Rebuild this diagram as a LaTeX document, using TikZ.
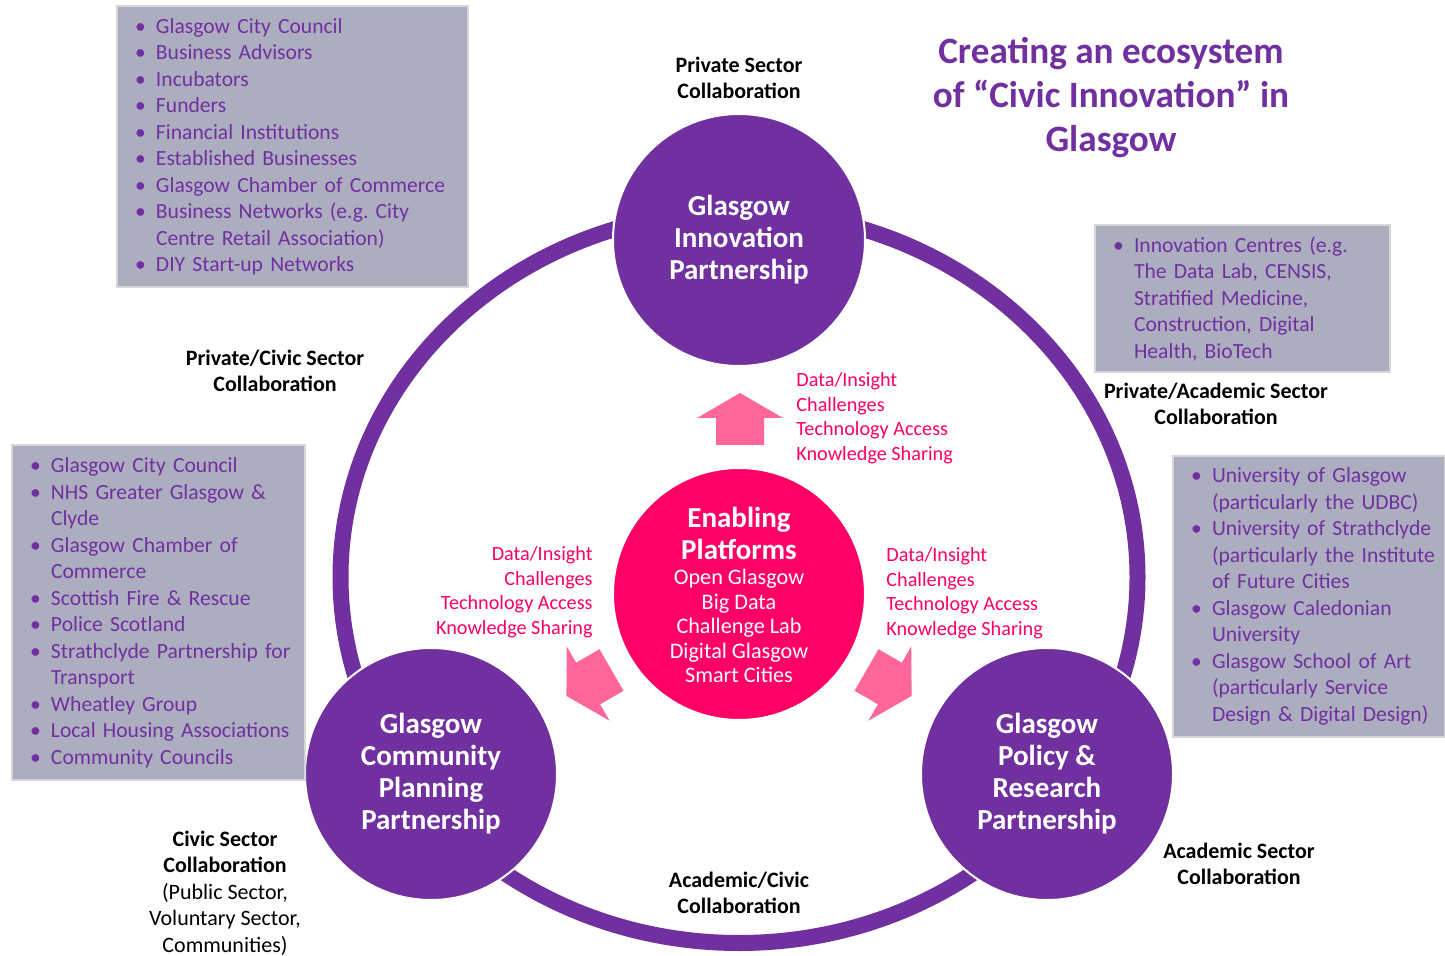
\documentclass[tikz,border=0pt]{standalone}
\usepackage{fontspec}
\setmainfont{Carlito}
\usepackage{tikz}
\frenchspacing

\definecolor{ecopurple}{HTML}{7030A0}
\definecolor{ecopink}{HTML}{FF0066}
\definecolor{arrowpink}{HTML}{FF6699}
\definecolor{boxgrey}{HTML}{ADADC0}
\definecolor{boxedge}{HTML}{D6D6D6}

\newcommand{\bitem}{\hspace*{9pt}\makebox[10.5pt][l]{\textbullet}}
\newcommand{\bcont}{\hspace*{19.5pt}}

\tikzset{
  listbox/.style={draw=boxedge, line width=1pt, fill=boxgrey, text=ecopurple,
    font=\fontsize{10.8}{13.25}\selectfont, inner xsep=0pt, align=left},
  hub/.style={circle, fill=ecopurple, draw=white, line width=1pt, minimum size=126pt,
    inner sep=0pt, text=white, font=\fontsize{14.5}{16}\selectfont\bfseries, align=center},
  flow/.style={text=ecopink, font=\fontsize{10.1}{12.25}\selectfont, inner sep=0pt},
  sector/.style={font=\fontsize{11}{13.25}\selectfont\bfseries, align=center},
  fatarrow/.pic={\fill[arrowpink] (-24,0) -- (-24,-27) -- (-43,-27) -- (0,-52)
    -- (43,-27) -- (24,-27) -- (24,0) -- cycle;}
}

\begin{document}
\begin{tikzpicture}[x=0.5pt, y=-0.5pt]
    \useasboundingbox (0,0) rectangle (1445,956);
    \fill[white] (0,0) rectangle (1445,956);

    % Ring
    \draw[ecopurple, line width=8pt] (739,577) ellipse [x radius=199.25pt, y radius=183pt];

    % Partnerships
    \node[hub] (gip) at (739,240) {Glasgow\\Innovation\\Partnership};
    \node[hub] (gcpp) at (431,774) {Glasgow\\Community\\Planning\\Partnership};
    \node[hub] (gprp) at (1047,774) {Glasgow\\Policy \&\\Research\\Partnership};

    % Enabling platforms
    \node[hub, fill=ecopink] (ep) at (739,594) {};
    \node[text=white, font=\fontsize{14.5}{16}\selectfont\bfseries, align=center] (eptitle) at (739,533) {Enabling\\Platforms};
    \node[text=white, font=\fontsize{11.1}{12.25}\selectfont, align=center] (eplist) at (739,626)
        {Open Glasgow\\Big Data\\Challenge Lab\\Digital Glasgow\\Smart Cities};

    % Flows
    \pic at (740,445) {fatarrow};
    \pic[rotate=120] at (611.5,670) {fatarrow};
    \pic[rotate=-120] at (866.5,670) {fatarrow};
    \node[flow, anchor=west, align=left] (flowtop) at (796,418)
        {Data/Insight\\Challenges\\Technology Access\\Knowledge Sharing};
    \node[flow, anchor=east, align=right] (flowleft) at (593,592)
        {Data/Insight\\Challenges\\Technology Access\\Knowledge Sharing};
    \node[flow, anchor=west, align=left] (flowright) at (886,593)
        {Data/Insight\\Challenges\\Technology Access\\Knowledge Sharing};

    % Sector labels
    \node[sector] (privlab) at (739,78) {Private Sector\\Collaboration};
    \node[sector] (privciv) at (275,371) {Private/Civic Sector\\Collaboration};
    \node[sector] (privacad) at (1216,404) {Private/Academic Sector\\Collaboration};
    \node[sector] (civlab) at (225,893) {Civic Sector\\Collaboration\\\textmd{(Public Sector,}\\\textmd{Voluntary Sector,}\\\textmd{Communities)}};
    \node[sector] (acadlab) at (1239,864) {Academic Sector\\Collaboration};
    \node[sector] (acadciv) at (739,893) {Academic/Civic\\Collaboration};

    % Title
    \node[text=ecopurple, font=\fontsize{18.6}{22}\selectfont\bfseries, align=center] (title) at (1111,98)
        {Creating an ecosystem\\of “Civic Innovation” in\\Glasgow};

    % Member boxes
    \node[listbox, text width=175.5pt, minimum height=140.5pt] (privbox) at (292.5,146.5)
        {\bitem Glasgow City Council\\\bitem Business Advisors\\\bitem Incubators\\\bitem Funders\\
         \bitem Financial Institutions\\\bitem Established Businesses\\\bitem Glasgow Chamber of Commerce\\
         \bitem Business Networks (e.g. City\\\bcont Centre Retail Association)\\\bitem DIY Start-up Networks};
    \node[listbox, text width=146.5pt, minimum height=167.5pt] (civbox) at (158.5,612.5)
        {\bitem Glasgow City Council\\\bitem NHS Greater Glasgow \&\\\bcont Clyde\\\bitem Glasgow Chamber of\\
         \bcont Commerce\\\bitem Scottish Fire \& Rescue\\\bitem Police Scotland\\
         \bitem Strathclyde Partnership for\\\bcont Transport\\\bitem Wheatley Group\\
         \bitem Local Housing Associations\\\bitem Community Councils};
    \node[listbox, text width=147.5pt, minimum height=73.5pt] (innobox) at (1242.5,298.5)
        {\bitem Innovation Centres (e.g.\\\bcont The Data Lab, CENSIS,\\\bcont Stratified Medicine,\\
         \bcont Construction, Digital\\\bcont Health, BioTech};
    \node[listbox, text width=136pt, minimum height=140.5pt] (acadbox) at (1309,596.5)
        {\bitem University of Glasgow\\\bcont (particularly the UDBC)\\\bitem University of Strathclyde\\
         \bcont (particularly the Institute\\\bcont of Future Cities\\\bitem Glasgow Caledonian\\
         \bcont University\\\bitem Glasgow School of Art\\\bcont (particularly Service\\
         \bcont Design \& Digital Design)};
\end{tikzpicture}
\end{document}
